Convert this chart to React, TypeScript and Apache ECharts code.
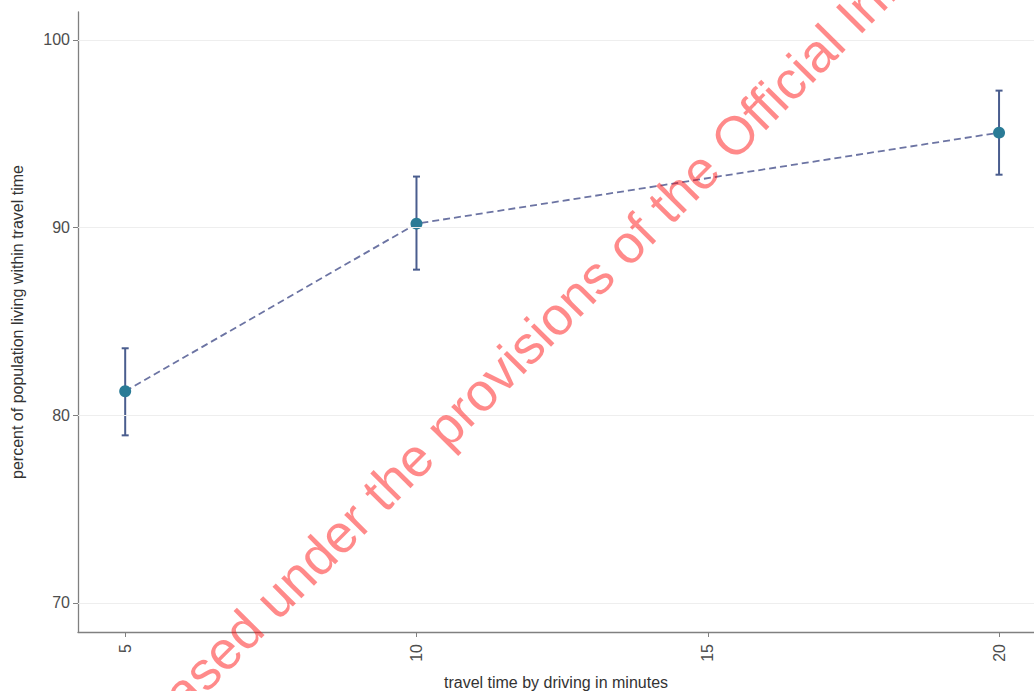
import React, { useEffect, useRef } from "react";
import * as echarts from "echarts";

const travelMinutes = [5, 10, 20];
const meanPercent = [81.28, 90.21, 95.06];
const lowerPercent = [78.93, 87.76, 92.82];
const upperPercent = [83.57, 92.72, 97.3];
const xTicks = [5, 10, 15, 20];
const yTicks = [70, 80, 90, 100];
const xTitle = "travel time by driving in minutes";
const yTitle = "percent of population living within travel time";
const watermark = "Released under the provisions of the Official Information Act 1982";

const FONT = "'Liberation Sans', Arial, Helvetica, sans-serif";

export default function App() {
  const ref = useRef<HTMLDivElement>(null);
  useEffect(() => {
    if (!ref.current) return;
    const chart = echarts.init(ref.current, undefined, { renderer: "svg" });
    const points = travelMinutes.map((x, i) => [x, meanPercent[i]]);
    const bars = travelMinutes.map((x, i) => [x, lowerPercent[i], upperPercent[i]]);
    const angle = (45.2 * Math.PI) / 180;
    chart.setOption({
      animation: false,
      backgroundColor: "#ffffff",
      grid: { left: 78, top: 12, right: 0, bottom: 59, containLabel: false, outerBoundsMode: "none" },
      xAxis: {
        type: "value",
        min: 4.19,
        max: 20.6,
        name: xTitle,
        nameLocation: "middle",
        nameGap: 42,
        nameTextStyle: { fontFamily: FONT, fontSize: 16, color: "#333333" },
        axisLine: { show: true, lineStyle: { color: "#808080", width: 1.3 } },
        axisTick: { show: true, length: 5, customValues: xTicks, lineStyle: { color: "#808080" } },
        axisLabel: {
          customValues: xTicks,
          rotate: 90,
          margin: 12,
          fontFamily: FONT,
          fontSize: 16,
          color: "#4d4d4d",
        },
        splitLine: { show: false },
      },
      yAxis: {
        type: "value",
        min: 68.45,
        max: 101.49,
        name: yTitle,
        nameLocation: "middle",
        nameGap: 53,
        nameTextStyle: { fontFamily: FONT, fontSize: 16, color: "#333333" },
        axisLine: { show: true, lineStyle: { color: "#808080", width: 1.3 } },
        axisTick: { show: true, length: 5, customValues: yTicks, lineStyle: { color: "#808080" } },
        axisLabel: {
          customValues: yTicks,
          margin: 8,
          fontFamily: FONT,
          fontSize: 16,
          color: "#4d4d4d",
        },
        splitLine: { show: false },
      },
      graphic: [
        {
          type: "text",
          x: 94,
          y: 780,
          rotation: angle,
          z: 100,
          silent: true,
          style: {
            text: watermark,
            font: `53.6px ${FONT}`,
            fill: "rgba(255,0,0,0.46)",
            textAlign: "left",
            textVerticalAlign: "middle",
          },
        },
      ],
      series: [
        {
          type: "line",
          data: [],
          silent: true,
          markLine: {
            silent: true,
            symbol: "none",
            label: { show: false },
            lineStyle: { color: "#eeeeee", width: 1, type: "solid" },
            data: yTicks.map((v) => ({ yAxis: v })),
          },
          z: 1,
        },
        {
          type: "line",
          data: points,
          showSymbol: false,
          symbol: "none",
          lineStyle: { color: "#6c74a3", width: 1.8, type: [7, 4] },
          z: 2,
        },
        {
          type: "custom",
          data: bars,
          z: 3,
          renderItem: (params: any, api: any) => {
            const x = api.value(0);
            const lo = api.coord([x, api.value(1)]);
            const hi = api.coord([x, api.value(2)]);
            const cap = 3.5;
            const style = { stroke: "#4a5d8e", lineWidth: 2 };
            return {
              type: "group",
              children: [
                { type: "line", shape: { x1: lo[0], y1: lo[1], x2: hi[0], y2: hi[1] }, style },
                { type: "line", shape: { x1: lo[0] - cap, y1: lo[1], x2: lo[0] + cap, y2: lo[1] }, style },
                { type: "line", shape: { x1: hi[0] - cap, y1: hi[1], x2: hi[0] + cap, y2: hi[1] }, style },
              ],
            };
          },
        },
        {
          type: "scatter",
          data: points,
          symbolSize: 12,
          itemStyle: { color: "#2a7b96", opacity: 1 },
          z: 4,
        },
      ],
    });
    return () => chart.dispose();
  }, []);
  return (
    <div
      ref={ref}
      style={{ position: "fixed", left: 0, top: 0, width: 1034, height: 691 }}
    />
  );
}
